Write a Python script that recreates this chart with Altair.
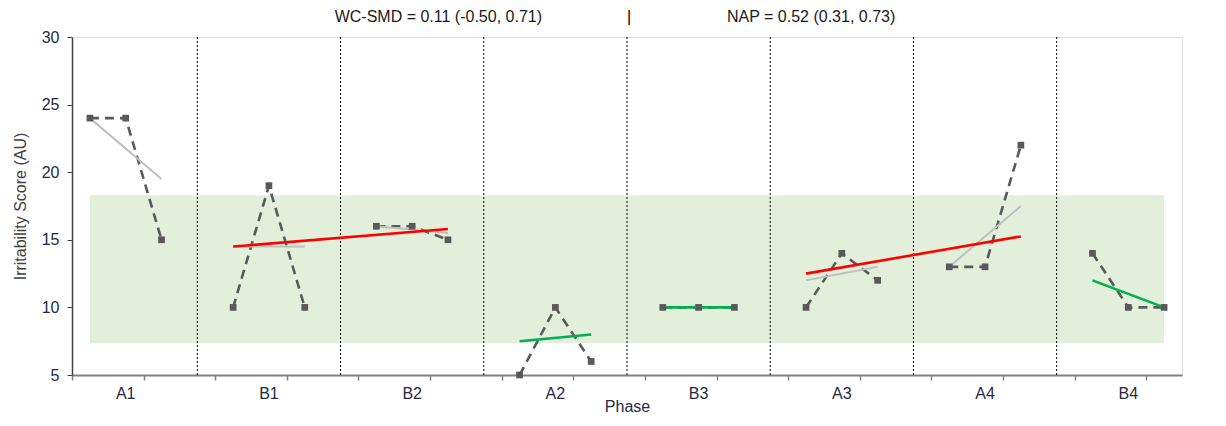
import altair as alt
import pandas as pd

# ---- data ----
phases = ["A1", "B1", "B2", "A2", "B3", "A3", "A4", "B4"]
scores = [
    [24, 24, 15],
    [10, 19, 10],
    [16, 16, 15],
    [5, 10, 6],
    [10, 10, 10],
    [10, 14, 12],
    [13, 13, 22],
    [14, 10, 10],
]
# grey within-phase trend lines (start value, end value)
gray_phases = ["A1", "B1", "B2", "A3", "A4"]
gray_start = [24.0, 14.5, 16.0, 12.0, 13.0]
gray_end = [19.5, 14.5, 15.5, 13.0, 17.5]
# red across-phase trend lines
red_from = ["B1", "A3"]
red_to = ["B2", "A4"]
red_start = [14.5, 12.5]
red_end = [15.8, 15.25]
# green trend lines
green_phases = ["A2", "B3", "B4"]
green_start = [7.5, 10.0, 12.0]
green_end = [8.0, 10.0, 10.0]
# shaded band
band_low = 7.35
band_high = 18.3

header_left = "WC-SMD = 0.11 (-0.50, 0.71)"
header_mid = "|"
header_right = "NAP = 0.52 (0.31, 0.73)"

# ---- build tables ----
slots_per_phase = 4
n_slots = slots_per_phase * len(phases) - 1


def first_slot(p):
    return phases.index(p) * slots_per_phase + 1


def last_slot(p):
    return phases.index(p) * slots_per_phase + len(scores[phases.index(p)])


rows = []
for i, p in enumerate(phases):
    for j, v in enumerate(scores[i]):
        rows.append({"phase": p, "session": i * slots_per_phase + j + 1, "score": v})
df = pd.DataFrame(rows)

trend_rows = []
for p, a, b in zip(gray_phases, gray_start, gray_end):
    trend_rows += [{"id": "g" + p, "kind": "gray", "session": first_slot(p), "score": a},
                   {"id": "g" + p, "kind": "gray", "session": last_slot(p), "score": b}]
for p, q, a, b in zip(red_from, red_to, red_start, red_end):
    trend_rows += [{"id": "r" + p, "kind": "red", "session": first_slot(p), "score": a},
                   {"id": "r" + p, "kind": "red", "session": last_slot(q), "score": b}]
for p, a, b in zip(green_phases, green_start, green_end):
    trend_rows += [{"id": "n" + p, "kind": "green", "session": first_slot(p), "score": a},
                   {"id": "n" + p, "kind": "green", "session": last_slot(p), "score": b}]
tdf = pd.DataFrame(trend_rows)

dividers = pd.DataFrame({"session": [(i + 1) * slots_per_phase for i in range(len(phases) - 1)]})
labels = pd.DataFrame({"phase": phases,
                       "session": [i * slots_per_phase + 2 for i in range(len(phases))]})
band = pd.DataFrame({"x1": [1], "x2": [n_slots], "y1": [band_low], "y2": [band_high]})

W, H = 1110, 338
FONT = "Liberation Sans"
TXT = "#1f2a44"

xscale = alt.Scale(domain=[0.5, n_slots + 0.5], nice=False, zero=False)
yscale = alt.Scale(domain=[5, 30], nice=False, zero=False)

xaxis = alt.Axis(values=[k + 0.5 for k in range(n_slots + 1)], labels=False, grid=False,
                 tickSize=5, tickColor="#808080", domainColor="#808080", domainWidth=2,
                 tickWidth=1.5, title="Phase", titleFontSize=16, titleFontWeight="normal",
                 titleColor=TXT, titlePadding=18, titleFont=FONT)
yaxis = alt.Axis(values=[5, 10, 15, 20, 25, 30], grid=False, tickSize=5, tickColor="#404040",
                 domainColor="#404040", domainWidth=1.5, labelFontSize=16, labelColor=TXT,
                 labelPadding=8, labelFont=FONT, title="Irritability Score (AU)", titleFontSize=16,
                 titleFontWeight="normal", titleColor="#404040", titlePadding=13, titleFont=FONT)

band_layer = alt.Chart(band).mark_rect(color="#E2EFDA").encode(
    x=alt.X("x1:Q", scale=xscale, axis=xaxis), x2="x2:Q",
    y=alt.Y("y1:Q", scale=yscale, axis=yaxis), y2="y2:Q")

div_layer = alt.Chart(dividers).mark_rule(color="#000000", strokeWidth=1, strokeDash=[2, 2]).encode(
    x=alt.X("session:Q", scale=xscale), y=alt.value(0), y2=alt.value(H))

data_line = alt.Chart(df).mark_line(color="#595959", strokeWidth=2.6, strokeDash=[9, 6]).encode(
    x=alt.X("session:Q", scale=xscale), y=alt.Y("score:Q", scale=yscale), detail="phase:N")

gray_layer = alt.Chart(tdf[tdf.kind == "gray"]).mark_line(color="#BFBFBF", strokeWidth=2).encode(
    x=alt.X("session:Q", scale=xscale), y=alt.Y("score:Q", scale=yscale), detail="id:N")
red_layer = alt.Chart(tdf[tdf.kind == "red"]).mark_line(color="#FF0000", strokeWidth=2.6).encode(
    x=alt.X("session:Q", scale=xscale), y=alt.Y("score:Q", scale=yscale), detail="id:N")
green_layer = alt.Chart(tdf[tdf.kind == "green"]).mark_line(color="#00B050", strokeWidth=2.6).encode(
    x=alt.X("session:Q", scale=xscale), y=alt.Y("score:Q", scale=yscale), detail="id:N")

points = alt.Chart(df).mark_square(color="#595959", size=45, opacity=1).encode(
    x=alt.X("session:Q", scale=xscale), y=alt.Y("score:Q", scale=yscale))

phase_labels = alt.Chart(labels).mark_text(fontSize=16, font=FONT, color=TXT,
                                           baseline="middle").encode(
    x=alt.X("session:Q", scale=xscale), y=alt.value(H + 19), text="phase:N")

hdr = pd.DataFrame({"t": [header_left, header_mid, header_right]})
hdr_left = alt.Chart(hdr.iloc[[0]]).mark_text(fontSize=16, font=FONT, color="#1a1a1a",
                                              align="right", baseline="middle").encode(
    x=alt.value(470), y=alt.value(-20), text="t:N")
hdr_mid = alt.Chart(hdr.iloc[[1]]).mark_text(fontSize=16, font=FONT, color="#000000",
                                             align="center", baseline="middle").encode(
    x=alt.value(557), y=alt.value(-20), text="t:N")
hdr_right = alt.Chart(hdr.iloc[[2]]).mark_text(fontSize=16, font=FONT, color="#1a1a1a",
                                               align="left", baseline="middle").encode(
    x=alt.value(655), y=alt.value(-20), text="t:N")

chart = alt.layer(
    band_layer, div_layer, data_line, gray_layer, red_layer, green_layer, points,
    phase_labels, hdr_left, hdr_mid, hdr_right
).properties(
    width=W, height=H,
    padding={"left": 64, "top": 29, "right": 30, "bottom": 43},
    autosize=alt.AutoSizeParams(type="none"),
).configure_view(stroke=None).configure(font=FONT, background="white")

chart.save("out.html", embed_options={"renderer": "svg", "actions": False})
